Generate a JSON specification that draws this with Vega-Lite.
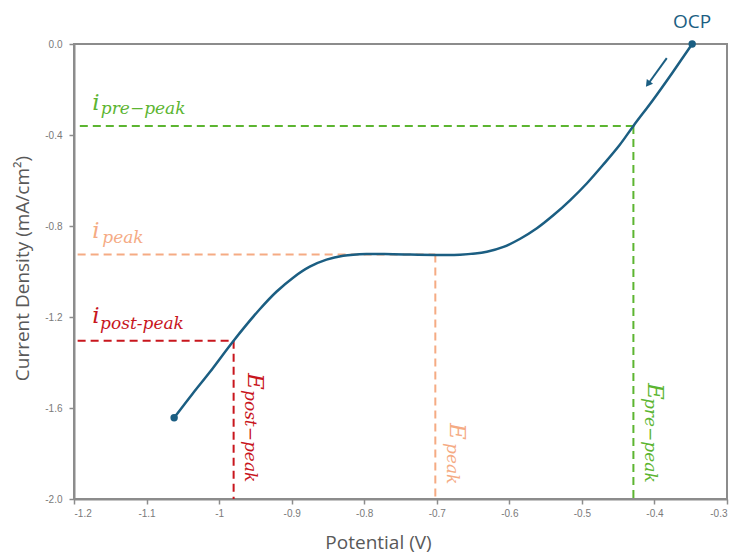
{
  "$schema": "https://vega.github.io/schema/vega-lite/v6.json",
  "width": 653,
  "height": 455,
  "autosize": "none",
  "padding": {"left": 74, "top": 44, "right": 9, "bottom": 55},
  "background": "white",
  "config": {
    "view": {"stroke": "#8c8c8c", "strokeWidth": 2},
    "axis": {
      "grid": false,
      "domainColor": "#8c8c8c",
      "domainWidth": 2,
      "tickColor": "#8c8c8c",
      "tickWidth": 1.5,
      "tickSize": 5,
      "labelFont": "Liberation Sans",
      "labelFontSize": 10,
      "labelColor": "#7a7a7a",
      "titleFont": "Open Sans",
      "titleFontSize": 19,
      "titleFontWeight": "normal",
      "titleColor": "#595959"
    }
  },
  "datasets": {
    "curve": [
      {"x": -1.062, "y": -1.643},
      {"x": -1.036, "y": -1.535},
      {"x": -1.013, "y": -1.443},
      {"x": -0.980, "y": -1.304},
      {"x": -0.944, "y": -1.166},
      {"x": -0.921, "y": -1.089},
      {"x": -0.898, "y": -1.027},
      {"x": -0.875, "y": -0.979},
      {"x": -0.852, "y": -0.948},
      {"x": -0.829, "y": -0.931},
      {"x": -0.797, "y": -0.923},
      {"x": -0.760, "y": -0.924},
      {"x": -0.702, "y": -0.927},
      {"x": -0.668, "y": -0.926},
      {"x": -0.631, "y": -0.913},
      {"x": -0.608, "y": -0.892},
      {"x": -0.585, "y": -0.856},
      {"x": -0.562, "y": -0.810},
      {"x": -0.539, "y": -0.752},
      {"x": -0.516, "y": -0.686},
      {"x": -0.493, "y": -0.612},
      {"x": -0.471, "y": -0.532},
      {"x": -0.448, "y": -0.444},
      {"x": -0.429, "y": -0.360},
      {"x": -0.402, "y": -0.246},
      {"x": -0.375, "y": -0.125},
      {"x": -0.348, "y": 0.0}
    ],
    "ends": [
      {"x": -1.062, "y": -1.643},
      {"x": -0.348, "y": 0.0}
    ],
    "refs": [
      {"k": "pre", "x": -1.192, "x2": -0.429, "y": -0.36, "y2": -0.36},
      {"k": "pre", "x": -0.429, "x2": -0.429, "y": -0.36, "y2": -2.0},
      {"k": "peak", "x": -1.195, "x2": -0.702, "y": -0.925, "y2": -0.925},
      {"k": "peak", "x": -0.702, "x2": -0.702, "y": -0.925, "y2": -2.0},
      {"k": "post", "x": -1.195, "x2": -0.980, "y": -1.304, "y2": -1.304},
      {"k": "post", "x": -0.980, "x2": -0.980, "y": -1.304, "y2": -2.0}
    ],
    "ilabels": [
      {"k": "pre", "x": -1.175, "y": -0.290, "t": "i"},
      {"k": "peak", "x": -1.175, "y": -0.853, "t": "i"},
      {"k": "post", "x": -1.175, "y": -1.226, "t": "i"}
    ],
    "isubs": [
      {"k": "pre", "x": -1.163, "y": -0.308, "t": "pre−peak"},
      {"k": "peak", "x": -1.161, "y": -0.875, "t": "peak"},
      {"k": "post", "x": -1.164, "y": -1.253, "t": "post-peak"}
    ],
    "elabels": [
      {"k": "pre", "x": -0.409, "y": -1.490, "t": "E"},
      {"k": "peak", "x": -0.682, "y": -1.666, "t": "E"},
      {"k": "post", "x": -0.960, "y": -1.446, "t": "E"}
    ],
    "esubs": [
      {"k": "pre", "x": -0.413, "y": -1.556, "t": "pre−peak"},
      {"k": "peak", "x": -0.686, "y": -1.754, "t": "peak"},
      {"k": "post", "x": -0.964, "y": -1.521, "t": "post−peak"}
    ],
    "arrow": [
      {"x": -0.383, "y": -0.062, "x2": -0.407, "y2": -0.168}
    ],
    "arrowhead": [
      {"x": -0.409, "y": -0.176}
    ],
    "ocp": [
      {"x": -0.348, "y": 0.097, "t": "OCP"}
    ]
  },
  "layer": [
    {
      "data": {"name": "refs"},
      "mark": {"type": "rule", "strokeWidth": 2, "strokeDash": [8, 5]},
      "encoding": {
        "x": {"field": "x", "type": "quantitative", "scale": {"domain": [-1.2, -0.3], "nice": false, "zero": false},
          "axis": {"values": [-1.2, -1.1, -1, -0.9, -0.8, -0.7, -0.6, -0.5, -0.4, -0.3],
            "labelExpr": "abs(datum.value + 1) < 1e-9 ? '-1' : ((datum.value < 0 ? '-' : '') + format(abs(datum.value), '.1f'))",
            "labelPadding": 4,
            "title": "Potential (V)", "titleX": 304, "titleY": 49, "titleAnchor": null, "titleAlign": "center", "titleBaseline": "alphabetic"}},
        "x2": {"field": "x2"},
        "y": {"field": "y", "type": "quantitative", "scale": {"domain": [-2, 0], "nice": false, "zero": false},
          "axis": {"values": [0, -0.4, -0.8, -1.2, -1.6, -2.0],
            "labelExpr": "(datum.value < 0 ? '-' : '') + format(abs(datum.value), '.1f')",
            "labelPadding": 7,
            "title": "Current Density (mA/cm²)", "titleX": -52, "titleY": 224, "titleAngle": -90, "titleAlign": "center", "titleBaseline": "middle"}},
        "y2": {"field": "y2"},
        "color": {"field": "k", "type": "nominal", "legend": null,
          "scale": {"domain": ["pre", "peak", "post"], "range": ["#5cb531", "#f5ab84", "#c8161d"]}}
      }
    },
    {
      "data": {"name": "curve"},
      "mark": {"type": "line", "interpolate": "catmull-rom", "color": "#1b5e82", "strokeWidth": 2.5},
      "encoding": {
        "x": {"field": "x", "type": "quantitative"},
        "y": {"field": "y", "type": "quantitative"}
      }
    },
    {
      "data": {"name": "ends"},
      "mark": {"type": "point", "filled": true, "color": "#1b5e82", "size": 55, "opacity": 1},
      "encoding": {
        "x": {"field": "x", "type": "quantitative"},
        "y": {"field": "y", "type": "quantitative"}
      }
    },
    {
      "data": {"name": "arrow"},
      "mark": {"type": "rule", "color": "#1b5e82", "strokeWidth": 2},
      "encoding": {
        "x": {"field": "x", "type": "quantitative"},
        "y": {"field": "y", "type": "quantitative"},
        "x2": {"field": "x2"},
        "y2": {"field": "y2"}
      }
    },
    {
      "data": {"name": "arrowhead"},
      "mark": {"type": "point", "shape": "triangle-up", "filled": true, "color": "#1b5e82", "size": 60, "angle": 216.5, "opacity": 1},
      "encoding": {
        "x": {"field": "x", "type": "quantitative"},
        "y": {"field": "y", "type": "quantitative"}
      }
    },
    {
      "data": {"name": "ilabels"},
      "mark": {"type": "text", "font": "DejaVu Serif", "fontStyle": "italic", "fontSize": 23, "align": "left", "baseline": "alphabetic"},
      "encoding": {
        "x": {"field": "x", "type": "quantitative"},
        "y": {"field": "y", "type": "quantitative"},
        "text": {"field": "t"},
        "color": {"field": "k", "type": "nominal", "legend": null}
      }
    },
    {
      "data": {"name": "isubs"},
      "mark": {"type": "text", "font": "DejaVu Serif", "fontStyle": "italic", "fontSize": 17, "align": "left", "baseline": "alphabetic"},
      "encoding": {
        "x": {"field": "x", "type": "quantitative"},
        "y": {"field": "y", "type": "quantitative"},
        "text": {"field": "t"},
        "color": {"field": "k", "type": "nominal", "legend": null}
      }
    },
    {
      "data": {"name": "elabels"},
      "mark": {"type": "text", "font": "DejaVu Serif", "fontStyle": "italic", "fontSize": 23, "align": "left", "baseline": "alphabetic", "angle": 90},
      "encoding": {
        "x": {"field": "x", "type": "quantitative"},
        "y": {"field": "y", "type": "quantitative"},
        "text": {"field": "t"},
        "color": {"field": "k", "type": "nominal", "legend": null}
      }
    },
    {
      "data": {"name": "esubs"},
      "mark": {"type": "text", "font": "DejaVu Serif", "fontStyle": "italic", "fontSize": 17, "align": "left", "baseline": "alphabetic", "angle": 90},
      "encoding": {
        "x": {"field": "x", "type": "quantitative"},
        "y": {"field": "y", "type": "quantitative"},
        "text": {"field": "t"},
        "color": {"field": "k", "type": "nominal", "legend": null}
      }
    },
    {
      "data": {"name": "ocp"},
      "mark": {"type": "text", "font": "Open Sans", "fontSize": 19, "align": "center", "baseline": "middle", "color": "#1b5e82"},
      "encoding": {
        "x": {"field": "x", "type": "quantitative"},
        "y": {"field": "y", "type": "quantitative"},
        "text": {"field": "t"}
      }
    }
  ]
}
